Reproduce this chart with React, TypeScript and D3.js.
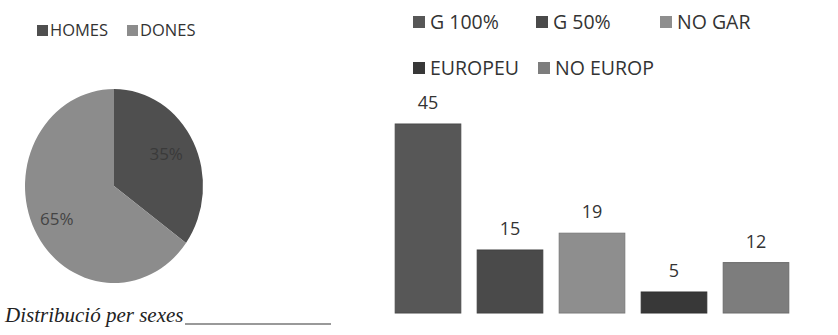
import React from "react";
import * as d3 from "d3";

const pieLabels = ["HOMES", "DONES"];
const pieValues = [35, 65];
const pieColors = ["#4f4f4f", "#8c8c8c"];

const barCategories = ["G 100%", "G 50%", "NO GAR", "EUROPEU", "NO EUROP"];
const barValues = [45, 15, 19, 5, 12];
const barColors = ["#575757", "#4a4a4a", "#8e8e8e", "#383838", "#7d7d7d"];

const title = "Distribució per sexes";

const FONT = "'Open Sans', 'Liberation Sans', sans-serif";

export default function App() {
  const W = 838, H = 335;

  // Pie
  const cx = 114, cy = 186, rx = 89, ry = 97;
  const pie = d3.pie<number>().sort(null).value((d) => d)(pieValues);
  const arc = d3.arc<d3.PieArcDatum<number>>().innerRadius(0).outerRadius(ry);
  const labelArc = d3.arc<d3.PieArcDatum<number>>().innerRadius(ry * 0.62).outerRadius(ry * 0.62);
  const labelOffsets = [
    [3, -3],
    [-8, 7],
  ];

  // Bars
  const x = d3.scaleBand<string>().domain(barCategories).range([387, 797]).paddingInner(0.2).paddingOuter(0.1);
  const y = d3.scaleLinear().domain([0, 45]).range([313, 124]);

  const rightLegend = [
    { i: 0, x: 413, y: 22 },
    { i: 1, x: 536, y: 22 },
    { i: 2, x: 660, y: 22 },
    { i: 3, x: 413, y: 68 },
    { i: 4, x: 538, y: 68 },
  ];
  const leftLegend = [
    { i: 0, x: 37, y: 30 },
    { i: 1, x: 127, y: 30 },
  ];

  return (
    <svg width={W} height={H} style={{ position: "absolute", left: 0, top: 0, background: "#fff" }}>
      {/* left legend */}
      {leftLegend.map((l) => (
        <g key={l.i}>
          <rect x={l.x} y={l.y - 5} width={11} height={11} fill={pieColors[l.i]} />
          <text x={l.x + 13} y={l.y + 6} fontFamily={FONT} fontSize={16.5} fill="#333">
            {pieLabels[l.i]}
          </text>
        </g>
      ))}
      {/* pie */}
      <g transform={`translate(${cx},${cy}) scale(${rx / ry},1)`}>
        {pie.map((p, i) => (
          <path key={i} d={arc(p) || ""} fill={pieColors[i]} />
        ))}
      </g>
      {pie.map((p, i) => {
        const [lx, ly] = labelArc.centroid(p);
        return (
          <text
            key={i}
            x={cx + lx * (rx / ry) + labelOffsets[i][0]}
            y={cy + ly + labelOffsets[i][1]}
            textAnchor="middle"
            dominantBaseline="middle"
            fontFamily={FONT}
            fontSize={17}
            fill={i === 0 ? "#3a3a3a" : "#444"}
          >
            {pieValues[i]}%
          </text>
        );
      })}
      {/* title */}
      <text x={5} y={322} fontFamily="'Liberation Serif', 'DejaVu Serif', serif" fontStyle="italic" fontSize={21} fill="#222">
        {title}
      </text>
      <line x1={185} x2={331} y1={324} y2={324} stroke="#777" strokeWidth={1.5} />

      {/* right legend */}
      {rightLegend.map((l) => (
        <g key={l.i}>
          <rect x={l.x} y={l.y - 6} width={12} height={12} fill={barColors[l.i]} />
          <text x={l.x + 17} y={l.y + 7} fontFamily={FONT} fontSize={19.5} fill="#333">
            {barCategories[l.i]}
          </text>
        </g>
      ))}
      {/* bars */}
      {barValues.map((v, i) => (
        <g key={i}>
          <rect
            x={x(barCategories[i])}
            y={y(v)}
            width={x.bandwidth()}
            height={y(0) - y(v)}
            fill={barColors[i]}
            stroke={d3.color(barColors[i])!.darker(0.4).toString()}
            strokeWidth={1}
          />
          <text
            x={(x(barCategories[i]) || 0) + x.bandwidth() / 2}
            y={y(v) - 15}
            textAnchor="middle"
            fontFamily={FONT}
            fontSize={18}
            fill="#333"
          >
            {v}
          </text>
        </g>
      ))}
    </svg>
  );
}
